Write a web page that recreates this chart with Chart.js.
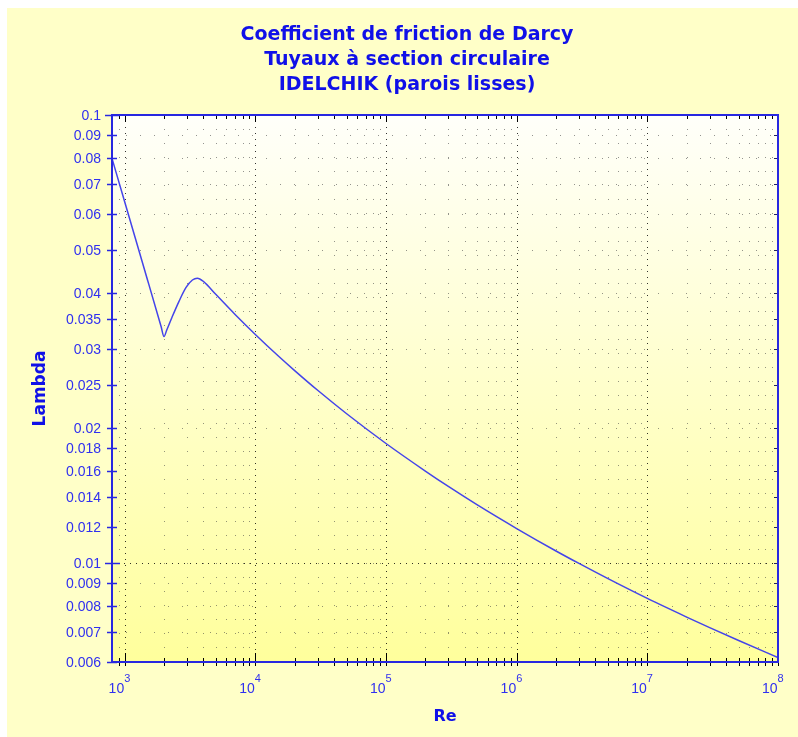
<!DOCTYPE html>
<html>
<head>
<meta charset="utf-8">
<script src="https://cdn.jsdelivr.net/npm/chart.js@4.4.1/dist/chart.umd.min.js"></script>
<style>
  html, body { margin: 0; padding: 0; background: #fff; }
  canvas { display: block; }
</style>
</head>
<body>
<canvas id="chart" width="798" height="737"></canvas>
<script>
// Données
const titleLines = ["Coefficient de friction de Darcy", "Tuyaux à section circulaire", "IDELCHIK (parois lisses)"];
const xTitle = "Re";
const yTitle = "Lambda";

const reValues = [800, 1000, 1500, 1900, 2000, 2100, 2300, 2600, 2950, 3300, 3600, 4000, 5000, 7000,
    10000, 15000, 20000, 30000, 50000, 1e5, 2e5, 3e5, 5e5, 1e6, 2e6, 3e6, 5e6, 1e7, 2e7, 3e7, 5e7, 1e8];
const lambdaValues = [0.0800, 0.0640, 0.0427, 0.0337, 0.0320, 0.0331, 0.0353, 0.0383, 0.0412, 0.0428, 0.0432, 0.0425, 0.03971, 0.03585,
    0.03235, 0.02895, 0.02686, 0.02427, 0.02151, 0.01846, 0.01602, 0.01480, 0.01346, 0.01192, 0.01062, 0.00996, 0.00921, 0.00832, 0.00756, 0.00716, 0.00670, 0.00614];

const xDecades = [1e3, 1e4, 1e5, 1e6, 1e7, 1e8];
const xExponents = ["3", "4", "5", "6", "7", "8"];
const yTickLabels = [0.006, 0.007, 0.008, 0.009, 0.01, 0.012, 0.014, 0.016, 0.018, 0.02, 0.025,
    0.03, 0.035, 0.04, 0.05, 0.06, 0.07, 0.08, 0.09, 0.1];
const yGridValues = [0.007, 0.008, 0.009, 0.02, 0.03, 0.04, 0.05, 0.06, 0.07, 0.08, 0.09];
const yMajorGrid = [0.01];

// graduations secondaires de l'axe x : 900, 2000..9000, etc.
const xMinorTicks = [900];
xDecades.slice(0, -1).forEach(d => { for (let k = 2; k <= 9; k++) xMinorTicks.push(d * k); });

const AXIS_BLUE = "#2828e0";
const LABEL_BLUE = "#3030f0";
const TITLE_BLUE = "#1010e8";

const decor = {
    id: "decor",
    beforeDraw(chart) {
        const ctx = chart.ctx, a = chart.chartArea;
        ctx.save();
        ctx.fillStyle = "#ffffff";
        ctx.fillRect(0, 0, chart.width, chart.height);
        ctx.fillStyle = "#ffffc8";
        ctx.fillRect(7, 8, chart.width - 7, chart.height - 8);
        const g = ctx.createLinearGradient(0, a.top, 0, a.bottom);
        g.addColorStop(0, "#fffffa");
        g.addColorStop(1, "#ffff9c");
        ctx.fillStyle = g;
        ctx.fillRect(a.left, a.top, a.right - a.left, a.bottom - a.top);
        ctx.restore();
    },
    beforeDatasetsDraw(chart) {
        const ctx = chart.ctx, a = chart.chartArea;
        const xs = chart.scales.x, ys = chart.scales.y;
        ctx.save();
        ctx.lineWidth = 1;
        // verticales
        const vline = (v, dash, color) => {
            const px = Math.round(xs.getPixelForValue(v)) + 0.5;
            ctx.strokeStyle = color;
            ctx.setLineDash(dash);
            ctx.beginPath();
            ctx.moveTo(px, a.bottom);
            ctx.lineTo(px, a.top);
            ctx.stroke();
        };
        xMinorTicks.forEach(v => vline(v, [1, 13], "rgba(60,60,60,0.55)"));
        xDecades.slice(0, -1).forEach(v => vline(v, [1, 5], "rgba(0,0,0,0.8)"));
        // horizontales
        const hline = (v, dash, color) => {
            const py = Math.round(ys.getPixelForValue(v)) + 0.5;
            ctx.strokeStyle = color;
            ctx.setLineDash(dash);
            ctx.beginPath();
            ctx.moveTo(a.left, py);
            ctx.lineTo(a.right, py);
            ctx.stroke();
        };
        yGridValues.forEach(v => hline(v, [1, 13], "rgba(60,60,60,0.55)"));
        yMajorGrid.forEach(v => hline(v, [1, 5], "rgba(0,0,0,0.8)"));
        ctx.restore();
    },
    afterDatasetsDraw(chart) {
        const ctx = chart.ctx, a = chart.chartArea;
        const xs = chart.scales.x, ys = chart.scales.y;
        ctx.save();
        ctx.setLineDash([]);

        // graduations axe x (bas et haut), noires
        ctx.strokeStyle = "#000";
        ctx.lineWidth = 1;
        const xTick = (v, major) => {
            const px = Math.round(xs.getPixelForValue(v)) + 0.5;
            ctx.beginPath();
            ctx.moveTo(px, a.bottom + 4);
            ctx.lineTo(px, a.bottom - (major ? 9 : 4));
            ctx.moveTo(px, a.top);
            ctx.lineTo(px, a.top + (major ? 7 : 4));
            ctx.stroke();
        };
        xMinorTicks.forEach(v => xTick(v, false));
        xDecades.forEach(v => xTick(v, true));

        // graduations axe y
        yTickLabels.forEach(v => {
            const py = Math.round(ys.getPixelForValue(v)) + 0.5;
            const big = v === 0.01 || v === 0.1;
            ctx.strokeStyle = AXIS_BLUE;
            ctx.lineWidth = 1.5;
            ctx.beginPath();
            ctx.moveTo(a.left - (big ? 7 : 5), py);
            ctx.lineTo(a.left + (big ? 8 : 5), py);
            ctx.stroke();
            ctx.strokeStyle = "#202060";
            ctx.lineWidth = 1;
            ctx.beginPath();
            ctx.moveTo(a.right - 4, py);
            ctx.lineTo(a.right, py);
            ctx.stroke();
        });

        // cadre bleu
        ctx.strokeStyle = AXIS_BLUE;
        ctx.lineWidth = 2;
        ctx.strokeRect(a.left, a.top, a.right - a.left, a.bottom - a.top);

        // libellés y
        ctx.fillStyle = LABEL_BLUE;
        ctx.font = "14px 'Liberation Sans', Arial, sans-serif";
        ctx.textAlign = "right";
        ctx.textBaseline = "alphabetic";
        yTickLabels.forEach(v => {
            const py = ys.getPixelForValue(v);
            ctx.fillText(String(v), a.left - 11, py + 5);
        });

        // libellés x : 10 puissance n
        xDecades.forEach((v, i) => {
            const px = xs.getPixelForValue(v);
            ctx.font = "14px 'Liberation Sans', Arial, sans-serif";
            ctx.textAlign = "right";
            ctx.fillText("10", px - 0.5, 693);
            ctx.font = "11px 'Liberation Sans', Arial, sans-serif";
            ctx.textAlign = "left";
            ctx.fillText(xExponents[i], px - 0.5, 682);
        });

        // titres
        ctx.fillStyle = TITLE_BLUE;
        ctx.font = "bold 19px 'DejaVu Sans', Verdana, sans-serif";
        ctx.textAlign = "center";
        titleLines.forEach((t, i) => ctx.fillText(t, 407, 40 + i * 25));

        ctx.font = "bold 16px 'DejaVu Sans', Verdana, sans-serif";
        ctx.fillText(xTitle, (a.left + a.right) / 2, 721);

        ctx.save();
        ctx.translate(45, (a.top + a.bottom) / 2);
        ctx.rotate(-Math.PI / 2);
        ctx.font = "bold 17px 'DejaVu Sans', Verdana, sans-serif";
        ctx.fillText(yTitle, 0, 0);
        ctx.restore();

        ctx.restore();
    }
};

new Chart(document.getElementById("chart"), {
    type: "scatter",
    data: {
        datasets: [{
            data: reValues.map((re, i) => ({ x: re, y: lambdaValues[i] })),
            showLine: true,
            cubicInterpolationMode: "monotone",
            borderColor: "#4444ea",
            borderWidth: 1.5,
            pointRadius: 0,
            fill: false
        }]
    },
    options: {
        responsive: false,
        animation: false,
        layout: { padding: { left: 112, top: 115, right: 20, bottom: 75 } },
        plugins: { legend: { display: false }, tooltip: { enabled: false } },
        scales: {
            x: { type: "logarithmic", min: 800, max: 1e8, display: false },
            y: { type: "logarithmic", min: 0.006, max: 0.1, display: false }
        }
    },
    plugins: [decor]
});
</script>
</body>
</html>
